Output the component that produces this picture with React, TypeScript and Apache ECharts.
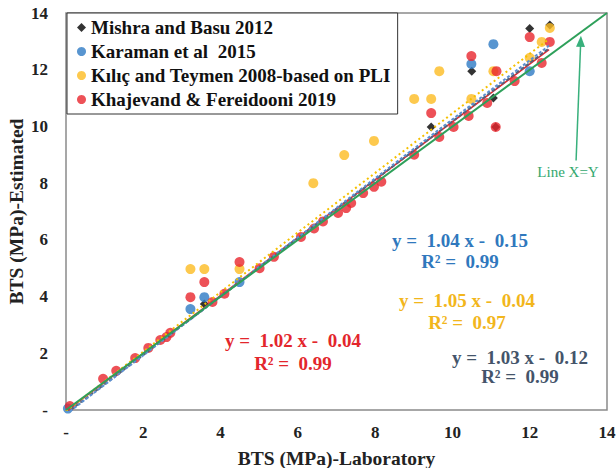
import React, { useEffect, useRef } from "react";
import * as echarts from "echarts";

const seriesNames = [
  "Mishra and Basu 2012",
  "Karaman et al  2015",
  "Kılıç and Teymen 2008-based on PLI",
  "Khajevand & Fereidooni 2019",
];

const mishraPoints: [number, number][] = [
  [3.58, 3.74], [9.45, 9.98], [10.5, 11.95], [11.06, 11.0], [11.12, 9.98], [12.0, 13.45], [12.52, 13.58],
];
const karamanPoints: [number, number][] = [
  [0.05, 0.05], [3.22, 3.56], [3.58, 3.98], [4.49, 4.51], [10.49, 12.2], [11.06, 12.9], [12.0, 11.95],
];
const kilicPoints: [number, number][] = [
  [3.22, 4.97], [3.58, 4.97], [4.49, 4.97], [6.4, 8.0], [7.2, 8.99], [7.97, 9.49], [9.01, 10.97],
  [9.45, 10.97], [9.66, 11.95], [10.49, 10.97], [11.06, 11.95], [12.0, 12.42], [12.31, 12.98], [12.52, 13.47],
];
const khajevandPoints: [number, number][] = [
  [0.1, 0.14], [0.96, 1.1], [1.3, 1.38], [1.79, 1.83], [2.13, 2.19], [2.44, 2.47], [2.6, 2.57], [2.7, 2.72],
  [3.22, 3.98], [3.58, 4.51], [3.79, 3.81], [4.1, 4.1], [4.49, 5.22], [5.01, 5.0], [5.38, 5.4], [6.08, 6.1],
  [6.42, 6.4], [6.65, 6.65], [7.04, 6.95], [7.25, 7.12], [7.38, 7.3], [7.69, 7.65], [7.97, 7.87], [8.16, 8.05],
  [9.01, 9.0], [9.45, 10.47], [9.66, 9.63], [10.03, 9.98], [10.42, 10.37], [10.49, 12.48], [10.9, 10.83],
  [11.12, 9.98], [11.14, 11.95], [11.61, 11.6], [12.0, 13.15], [12.31, 12.24], [12.52, 12.98],
];

// trendline coefficients: [slope, intercept, R2]
const mishraFit = [1.03, -0.12, 0.99];
const karamanFit = [1.04, -0.15, 0.99];
const kilicFit = [1.05, -0.04, 0.97];
const khajevandFit = [1.02, -0.04, 0.99];
const fitRange = [0, 12.5];
const identityRange = [0, 14];

const FONT = "'Liberation Serif', 'Times New Roman', serif";

function fitLine(c: number[]) {
  return fitRange.map((x) => [x, c[0] * x + c[1]]);
}
function eqText(c: number[]) {
  const sign = c[1] < 0 ? "-" : "+";
  return `y =  ${c[0].toFixed(2)} x ${sign}  ${Math.abs(c[1]).toFixed(2)}`;
}
function r2Text(c: number[]) {
  return `R² =  ${c[2].toFixed(2)}`;
}

export default function App() {
  const ref = useRef<HTMLDivElement>(null);
  useEffect(() => {
    if (!ref.current) return;
    const chart = echarts.init(ref.current, undefined, { renderer: "svg" });
    const axisLabel = {
      fontFamily: FONT,
      fontWeight: "bold" as const,
      fontSize: 17,
      color: "#222",
      formatter: (v: number) => (v === 0 ? "-" : String(v)),
    };
    const eqStyle = (color: string) => ({
      fontFamily: FONT,
      fontWeight: "bold",
      fontSize: 19,
      fill: color,
      textAlign: "center",
      textVerticalAlign: "middle",
    });
    const eqs = [
      { c: karamanFit, color: "#2f78bd", x: 460, y1: 240, y2: 261 },
      { c: kilicFit, color: "#f2b61c", x: 467, y1: 300, y2: 322 },
      { c: mishraFit, color: "#44546a", x: 520, y1: 357, y2: 376 },
      { c: khajevandFit, color: "#e3262c", x: 293, y1: 340, y2: 363 },
    ];
    const graphics: any[] = [];
    eqs.forEach((e) => {
      graphics.push({ type: "text", x: e.x, y: e.y1, style: { text: eqText(e.c), ...eqStyle(e.color) } });
      graphics.push({ type: "text", x: e.x, y: e.y2, style: { text: r2Text(e.c), ...eqStyle(e.color) } });
    });
    graphics.push({
      type: "text",
      x: 568,
      y: 172,
      style: {
        text: "Line X=Y",
        fontFamily: FONT,
        fontSize: 15,
        fill: "#33a86e",
        textAlign: "center",
        textVerticalAlign: "middle",
      },
    });

    const option: any = {
      animation: false,
      backgroundColor: "#fff",
      grid: {
        left: 66,
        right: 9,
        top: 13,
        bottom: 58,
        show: true,
        borderColor: "#8a8a8a",
        borderWidth: 1.5,
        outerBoundsMode: "none",
        containLabel: false,
      },
      legend: {
        data: seriesNames.map((n, i) => ({ name: n, icon: i === 0 ? "diamond" : "circle" })),
        orient: "vertical",
        left: 67,
        top: 13,
        itemWidth: 9,
        itemHeight: 9,
        itemGap: 5,
        padding: [5, 7, 5, 10],
        borderColor: "#333",
        borderWidth: 1,
        backgroundColor: "#fff",
        textStyle: { fontFamily: FONT, fontWeight: "bold", fontSize: 19, color: "#111" },
      },
      xAxis: {
        type: "value",
        min: 0,
        max: 14,
        interval: 2,
        name: "BTS (MPa)-Laboratory",
        nameLocation: "middle",
        nameGap: 38,
        nameMoveOverlap: false,
        nameTextStyle: { fontFamily: FONT, fontWeight: "bold", fontSize: 19.5, color: "#222" },
        axisLine: { show: false },
        axisTick: { show: false },
        splitLine: { show: false },
        axisLabel: { ...axisLabel, margin: 14 },
      },
      yAxis: {
        type: "value",
        min: 0,
        max: 14,
        interval: 2,
        name: "BTS (MPa)-Estimated",
        nameLocation: "middle",
        nameGap: 40,
        nameMoveOverlap: false,
        nameTextStyle: { fontFamily: FONT, fontWeight: "bold", fontSize: 19.5, color: "#222" },
        axisLine: { show: false },
        axisTick: { show: false },
        splitLine: { show: false },
        axisLabel: { ...axisLabel, margin: 18 },
      },
      series: [
        { name: seriesNames[0], type: "scatter", symbol: "diamond", symbolSize: 9, itemStyle: { color: "#000" }, data: mishraPoints },
        { name: seriesNames[1], type: "scatter", symbol: "circle", symbolSize: 10, itemStyle: { color: "#2e7bc4" }, data: karamanPoints },
        { name: seriesNames[2], type: "scatter", symbol: "circle", symbolSize: 10, itemStyle: { color: "#fdbb22" }, data: kilicPoints },
        { name: seriesNames[3], type: "scatter", symbol: "circle", symbolSize: 10, itemStyle: { color: "#e8262d" }, data: khajevandPoints },
        { name: "fit-red", type: "line", showSymbol: false, symbol: "none", data: fitLine(khajevandFit), lineStyle: { color: "#e8262d", width: 1.5 }, z: 3 },
        { name: "fit-slate", type: "line", showSymbol: false, symbol: "none", data: fitLine(mishraFit), lineStyle: { color: "#55627a", width: 2, type: [4, 2] }, z: 3 },
        { name: "fit-blue", type: "line", showSymbol: false, symbol: "none", data: fitLine(karamanFit), lineStyle: { color: "#5b8fd0", width: 2, type: [3, 2] }, z: 3 },
        { name: "fit-yellow", type: "line", showSymbol: false, symbol: "none", data: fitLine(kilicFit), lineStyle: { color: "#f5c000", width: 2, type: [2, 3] }, z: 3 },
        {
          name: "identity",
          type: "line",
          showSymbol: false,
          symbol: "none",
          data: identityRange.map((v) => [v, v]),
          lineStyle: { color: "#2ea05a", width: 2 },
          z: 4,
          markLine: {
            silent: true,
            symbol: ["none", "triangle"],
            symbolSize: [9, 11],
            label: { show: false },
            lineStyle: { color: "#38b07c", width: 1.5, type: "solid" },
            data: [[{ coord: [13.2, 8.8] }, { coord: [13.32, 13.0] }]],
          },
        },
      ],
      graphic: graphics,
    };
    chart.setOption(option);
    return () => chart.dispose();
  }, []);
  return <div ref={ref} style={{ position: "fixed", left: 0, top: 0, width: 616, height: 468 }} />;
}
